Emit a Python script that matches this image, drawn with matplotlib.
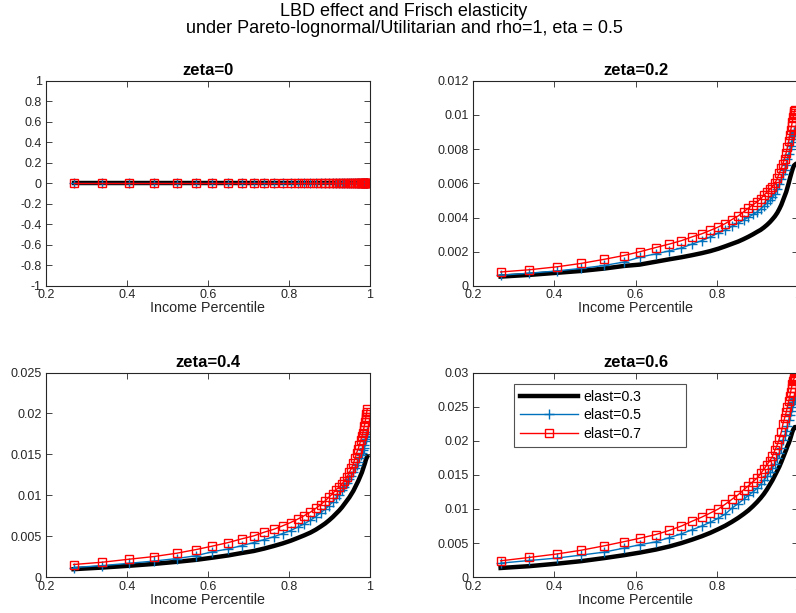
import numpy as np
import matplotlib
matplotlib.use("Agg")
import matplotlib.pyplot as plt
from matplotlib.ticker import FuncFormatter

plt.rcParams['font.family'] = ['Liberation Sans', 'DejaVu Sans']
plt.rcParams['axes.unicode_minus'] = False

# income percentile grid
pct = [0.268, 0.339, 0.406, 0.466, 0.523, 0.571, 0.610, 0.650, 0.683, 0.713,
       0.739, 0.763, 0.784, 0.804, 0.821, 0.837, 0.853, 0.866, 0.878, 0.889,
       0.899, 0.908, 0.916, 0.924, 0.931, 0.937, 0.943, 0.949, 0.954, 0.959,
       0.963, 0.967, 0.971, 0.974, 0.977, 0.980, 0.982, 0.984, 0.986, 0.988,
       0.989, 0.990, 0.991, 0.992, 0.993]

# LBD effect, values in units of 1e-3
zeta0_e03 = [0.0] * len(pct)
zeta0_e05 = [0.0] * len(pct)
zeta0_e07 = [0.0] * len(pct)

zeta02_e03 = [0.55, 0.65, 0.77, 0.88, 1.02, 1.17, 1.25, 1.42, 1.56, 1.68,
              1.80, 1.92, 2.04, 2.18, 2.32, 2.46, 2.60, 2.74, 2.88, 3.02,
              3.16, 3.28, 3.42, 3.58, 3.74, 3.90, 4.07, 4.28, 4.50, 4.75,
              5.00, 5.25, 5.50, 5.75, 6.00, 6.28, 6.45, 6.62, 6.78, 6.92,
              6.98, 7.03, 7.06, 7.08, 7.10]
zeta02_e05 = [0.63, 0.75, 0.88, 1.03, 1.20, 1.40, 1.68, 1.88, 2.05, 2.22,
              2.45, 2.65, 2.86, 3.10, 3.28, 3.48, 3.68, 3.86, 4.02, 4.18,
              4.32, 4.50, 4.68, 4.86, 5.02, 5.18, 5.36, 5.65, 5.95, 6.25,
              6.55, 6.80, 7.10, 7.40, 7.70, 8.00, 8.20, 8.40, 8.60, 8.75,
              8.85, 8.95, 9.00, 9.05, 9.10]
zeta02_e07 = [0.82, 0.95, 1.12, 1.32, 1.56, 1.78, 2.00, 2.25, 2.45, 2.65,
              2.87, 3.05, 3.25, 3.45, 3.65, 3.88, 4.10, 4.33, 4.55, 4.75,
              4.90, 5.10, 5.30, 5.50, 5.65, 5.80, 6.00, 6.30, 6.60, 6.90,
              7.15, 7.45, 7.80, 8.10, 8.45, 8.80, 9.10, 9.35, 9.60, 9.85,
              10.0, 10.1, 10.2, 10.25, 10.3]

zeta04_e03 = [0.98, 1.18, 1.40, 1.62, 1.88, 2.12, 2.38, 2.66, 2.95, 3.20,
              3.50, 3.82, 4.12, 4.45, 4.78, 5.10, 5.45, 5.80, 6.18, 6.55,
              6.95, 7.35, 7.75, 8.15, 8.55, 8.95, 9.35, 9.75, 10.15, 10.55,
              10.95, 11.35, 11.75, 12.1, 12.45, 12.8, 13.1, 13.4, 13.7, 14.0,
              14.2, 14.35, 14.5, 14.6, 14.7]
zeta04_e05 = [1.18, 1.42, 1.70, 1.97, 2.28, 2.63, 3.10, 3.45, 3.85, 4.23,
              4.60, 4.95, 5.33, 5.70, 6.10, 6.50, 6.96, 7.40, 7.85, 8.30,
              8.75, 9.20, 9.65, 10.1, 10.6, 11.0, 11.5, 12.0, 12.4, 12.8,
              13.3, 13.7, 14.1, 14.5, 14.9, 15.2, 15.5, 15.8, 16.2, 16.6,
              16.9, 17.1, 17.3, 17.5, 17.7]
zeta04_e07 = [1.55, 1.83, 2.20, 2.52, 2.93, 3.38, 3.79, 4.23, 4.68, 5.05,
              5.50, 5.86, 6.27, 6.68, 7.08, 7.50, 7.95, 8.40, 8.85, 9.30,
              9.80, 10.2, 10.7, 11.0, 11.4, 11.8, 12.2, 12.8, 13.3, 13.9,
              14.5, 15.2, 15.7, 16.2, 16.7, 17.2, 17.6, 18.0, 18.5, 18.9,
              19.3, 19.6, 19.9, 20.2, 20.5]

zeta06_e03 = [1.35, 1.62, 1.98, 2.35, 2.80, 3.22, 3.60, 4.05, 4.50, 5.00,
              5.50, 6.00, 6.50, 7.05, 7.55, 8.10, 8.70, 9.25, 9.80, 10.4,
              11.0, 11.6, 12.2, 12.9, 13.6, 14.2, 14.9, 15.6, 16.2, 16.9,
              17.5, 18.1, 18.7, 19.2, 19.6, 20.1, 20.5, 20.9, 21.3, 21.6,
              21.7, 21.8, 21.9, 22.0, 22.0]
zeta06_e05 = [2.06, 2.45, 2.80, 3.24, 3.68, 4.26, 4.75, 5.18, 5.80, 6.35,
              6.95, 7.50, 8.05, 8.65, 9.25, 10.1, 10.8, 11.4, 12.0, 12.5,
              13.0, 13.6, 14.2, 14.8, 15.4, 16.0, 16.6, 17.4, 18.2, 19.0,
              20.1, 20.8, 21.4, 22.2, 23.0, 23.8, 24.4, 24.9, 25.4, 25.7,
              25.9, 26.0, 26.1, 26.2, 26.3]
zeta06_e07 = [2.40, 2.90, 3.40, 3.95, 4.60, 5.20, 5.70, 6.25, 6.85, 7.50,
              8.20, 8.80, 9.40, 10.0, 10.7, 11.4, 12.1, 12.8, 13.4, 14.0,
              14.5, 15.2, 15.8, 16.5, 17.1, 17.7, 18.6, 19.4, 20.3, 21.3,
              22.5, 23.3, 24.2, 25.0, 25.8, 26.6, 27.2, 27.8, 28.3, 28.7,
              28.9, 29.1, 29.2, 29.3, 29.4]

panel_titles = ["zeta=0", "zeta=0.2", "zeta=0.4", "zeta=0.6"]
series = [(zeta0_e03, zeta0_e05, zeta0_e07),
          (zeta02_e03, zeta02_e05, zeta02_e07),
          (zeta04_e03, zeta04_e05, zeta04_e07),
          (zeta06_e03, zeta06_e05, zeta06_e07)]
yranges = [(-1, 1, 0.2), (0, 0.012, 0.002), (0, 0.025, 0.005), (0, 0.03, 0.005)]
legend_labels = ["elast=0.3", "elast=0.5", "elast=0.7"]

W, H = 796, 613
fig = plt.figure(figsize=(W / 100, H / 100), dpi=100)

# axes boxes in pixels: left, top, right, bottom
boxes = [(46, 80.7, 370, 286), (473, 80.7, 798, 286),
         (46, 372.5, 370, 577.2), (473, 372.5, 798, 577.2)]

grey = "#262626"
blue = "#0072BD"
x = np.array(pct)
fmt = FuncFormatter(lambda v, p: "%g" % (round(v, 6) + 0.0))

for k in range(4):
    l, t, r, b = boxes[k]
    ax = fig.add_axes([l / W, 1 - b / H, (r - l) / W, (b - t) / H])
    e03, e05, e07 = series[k]
    scale = 1.0 if k == 0 else 1e-3
    ax.plot(x, np.array(e03) * scale, color="black", lw=3.2, label=legend_labels[0])
    ax.plot(x, np.array(e05) * scale, color=blue, lw=1.0, marker="+", ms=7,
            mew=1.0, label=legend_labels[1])
    ax.plot(x, np.array(e07) * scale, color="red", lw=1.0, marker="s", ms=5.5,
            mfc="none", mew=1.0, label=legend_labels[2])

    y0, y1, ys = yranges[k]
    ax.set_xlim(0.2, 1)
    ax.set_ylim(y0, y1)
    ax.set_xticks([0.2, 0.4, 0.6, 0.8, 1.0])
    ax.set_yticks(np.arange(y0, y1 + ys / 2, ys))
    ax.xaxis.set_major_formatter(fmt)
    ax.yaxis.set_major_formatter(fmt)
    ax.tick_params(direction="in", top=True, right=True, length=4, width=0.6,
                   labelsize=9, colors=grey, pad=3)
    ax.tick_params(axis="x", pad=2.5)
    for s in ax.spines.values():
        s.set_color(grey)
        s.set_linewidth(0.8)
    ax.set_title(panel_titles[k], fontsize=12, fontweight="bold", pad=4)
    ax.set_xlabel("Income Percentile", fontsize=10.3, color=grey, labelpad=0)

    if k == 3:
        leg = ax.legend(loc="upper left", bbox_to_anchor=(0.126, 0.0, 0.529, 0.945),
                        mode="expand", fontsize=10.2, frameon=True, fancybox=False,
                        handlelength=4.1, borderaxespad=0, borderpad=0.45,
                        labelspacing=0.3, handletextpad=0.35)
        leg.get_frame().set_edgecolor(grey)
        leg.get_frame().set_linewidth(0.8)

fig.text(404 / W, 1 - 3 / H,
         "LBD effect and Frisch elasticity\nunder Pareto-lognormal/Utilitarian and rho=1, eta = 0.5",
         ha="center", va="top", fontsize=13, linespacing=1.0)

fig.savefig("out.png", dpi=100)
